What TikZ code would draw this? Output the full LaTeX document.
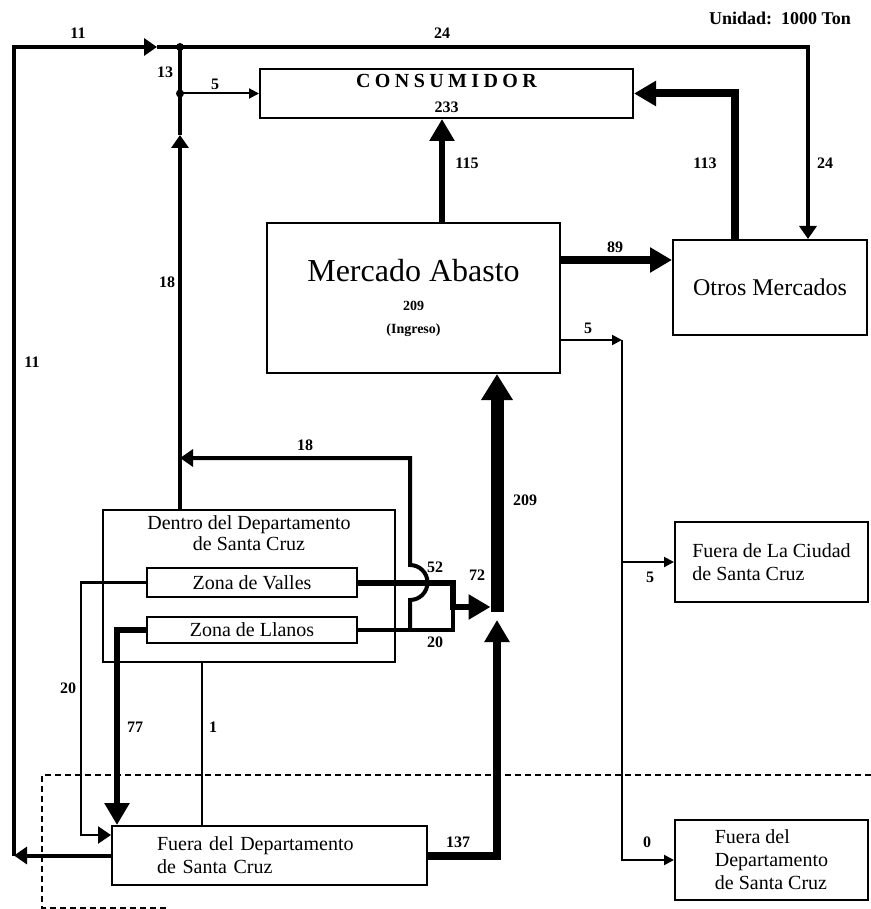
\documentclass[tikz,border=0pt]{standalone}
\usepackage{fontspec}
\setmainfont{Liberation Serif}
\newfontfamily\spacedfont[LetterSpace=22]{Liberation Serif}
\usetikzlibrary{arrows.meta,positioning,calc}

\tikzset{
  box/.style={draw, line width=1pt, inner sep=0pt, align=center, font=\fontsize{10}{11.5}\selectfont},
  lbl/.style={font=\bfseries\fontsize{8}{9}\selectfont, inner sep=1pt},
  thinflow/.style={line width=1pt},
  midflow/.style={line width=2pt},
  bigflow/.style={line width=3pt},
  hugeflow/.style={line width=4pt},
  barflow/.style={line width=6.5pt},
  dashline/.style={line width=0.7pt, dash pattern=on 3pt off 2pt},
  tipS/.style={-{Triangle[length=5pt,width=5pt]}},
  tipM/.style={-{Triangle[length=6.5pt,width=8.5pt]}},
  tipL/.style={-{Triangle[length=11pt,width=12pt]}},
  tipXL/.style={-{Triangle[length=13pt,width=15pt]}},
}

\begin{document}
\begin{tikzpicture}[x=0.5pt,y=-0.5pt]
\useasboundingbox (0,0) rectangle (871,909);

% Boxes
\node[box, minimum width=186.5pt, minimum height=24.5pt] (consumidor) at (446.5,93.5)
  {{\spacedfont\bfseries\fontsize{10}{12}\selectfont CONSUMIDOR}\\[1pt]{\bfseries\fontsize{8}{9}\selectfont 233}};
\node[box, minimum width=146.5pt, minimum height=75pt] (mercado) at (413.5,298)
  {{\fontsize{16}{18}\selectfont Mercado Abasto}\\[3pt]{\bfseries\fontsize{7}{12}\selectfont 209}\\{\bfseries\fontsize{7}{12}\selectfont (Ingreso)}};
\node[box, minimum width=97pt, minimum height=47.5pt, font=\fontsize{12}{14}\selectfont] (otros) at (770,287.5) {Otros Mercados};
\node[box, minimum width=96.5pt, minimum height=40pt, align=left] (ciudad) at (771.5,562) {Fuera de La Ciudad\\de Santa Cruz};
\node[box, minimum width=96.5pt, minimum height=40pt, align=left] (fueradep) at (771.5,860) {Fuera del\\Departamento\\de Santa Cruz};
\node[box, minimum width=146pt, minimum height=76pt,
  label={[align=center, anchor=north, font=\fontsize{10}{9}\selectfont]north:Dentro del Departamento\\de Santa Cruz}] (dentro) at (249,586) {};
\node[box, minimum width=105pt, minimum height=14.5pt] (valles) at (252,582.5) {Zona de Valles};
\node[box, minimum width=105pt, minimum height=13pt] (llanos) at (252,630) {Zona de Llanos};
\node[box, align=left, text width=112.5pt, inner xsep=22.5pt, minimum height=29.5pt] (fuerasc) at (269.5,855.5) {Fuera del Departamento\\de Santa Cruz};

\node[font=\bfseries\fontsize{9}{10}\selectfont] (unidad) at (780,18) {Unidad:~~1000 Ton};

% Junctions and corners
\coordinate (j1) at (180,47);
\coordinate (j2) at (180,93.5);
\coordinate (lc) at (14,47);
\coordinate (bl) at (14,855.5);
\coordinate (a11) at (157,47);
\coordinate (a18) at (180,135);
\coordinate (j3) at (180,458);
\coordinate (k1) at (410,630);
\coordinate (m1) at (453,607);
\coordinate (hub) at (497,612);
\coordinate (hubw) at (490.5,607);
\coordinate (c5) at (622,340);

% Flows back to the consumer
\draw[midflow, tipM] (fuerasc.west) -- (bl);
\draw[midflow, tipM] (bl) -- (lc) -- (a11);
\draw[midflow] (a11) -- (j1);
\draw[midflow] (j1) -- (j2);
\draw[midflow, tipM] (j1) -| ([xshift=19pt]otros.north);
\draw[thinflow, tipS] (j2) -- (j2 -| consumidor.west);
\draw[midflow, tipM] (j2 |- dentro.north) -- (a18);
\draw[midflow] (a18) -- (j2);
\fill (j1) circle (4);
\fill (j2) circle (4);

% Out of the Abasto
\draw[bigflow, tipL] ([xshift=14.25pt]mercado.north) -- ([xshift=14.25pt]mercado.north |- consumidor.south);
\draw[hugeflow, tipL] ([xshift=-17.5pt]otros.north) |- (consumidor.east);
\draw[hugeflow, tipL] ([yshift=19pt]mercado.east) -- ([yshift=19pt]mercado.east -| otros.west);
\draw[thinflow, tipS] (mercado.east |- c5) -- (c5);
\draw[thinflow, tipS] (c5) |- (fueradep.west);
\draw[thinflow, tipS] (c5 |- ciudad.west) -- (ciudad.west);

% Into the Abasto
\draw[barflow, tipXL] (hub) -- (hub |- mercado.south);
\draw[hugeflow, tipL] (fuerasc.east) -| ([yshift=-4pt]hub);
\draw[bigflow, tipL] (valles.east) -| (m1) -- (hubw);
\draw[midflow] (llanos.east) -| (m1);
\draw[midflow, tipM] (k1) -- ++(0,-30) arc[start angle=-90, end angle=90, radius=8.75pt] |- (j3);

% Between the zones
\draw[line width=1.25pt, tipM] (valles.west) -- ++(-65,0) |- ([yshift=10.25pt]fuerasc.west);
\draw[bigflow, tipL] (llanos.west) -| ([xshift=3pt]fuerasc.north west);
\draw[thinflow] ([xshift=-23.5pt]dentro.south) -- ([xshift=-23.5pt]dentro.south |- fuerasc.north);

% Dashed border
\draw[dashline] (871,775) -- (42,775) -- (42,908) -- (168,908);

% Labels
\node[lbl] (n11a) at (78,33) {11};
\node[lbl] (n24a) at (442,33) {24};
\node[lbl] (n13) at (165,72) {13};
\node[lbl] (n5a) at (215,84) {5};
\node[lbl] (n115) at (467,163) {115};
\node[lbl] (n113) at (705,163) {113};
\node[lbl] (n24b) at (825,163) {24};
\node[lbl] (n18a) at (167,282) {18};
\node[lbl] (n89) at (615,247) {89};
\node[lbl] (n5b) at (588,328) {5};
\node[lbl] (n11b) at (32,362) {11};
\node[lbl] (n18b) at (305,445) {18};
\node[lbl] (n209) at (525,500) {209};
\node[lbl] (n52) at (435,567) {52};
\node[lbl] (n72) at (477,575) {72};
\node[lbl] (n5c) at (650,577) {5};
\node[lbl] (n20a) at (435,642) {20};
\node[lbl] (n20b) at (68,688) {20};
\node[lbl] (n77) at (135,727) {77};
\node[lbl] (n1) at (213,727) {1};
\node[lbl] (n137) at (458,842) {137};
\node[lbl] (n0) at (647,842) {0};

\end{tikzpicture}
\end{document}
